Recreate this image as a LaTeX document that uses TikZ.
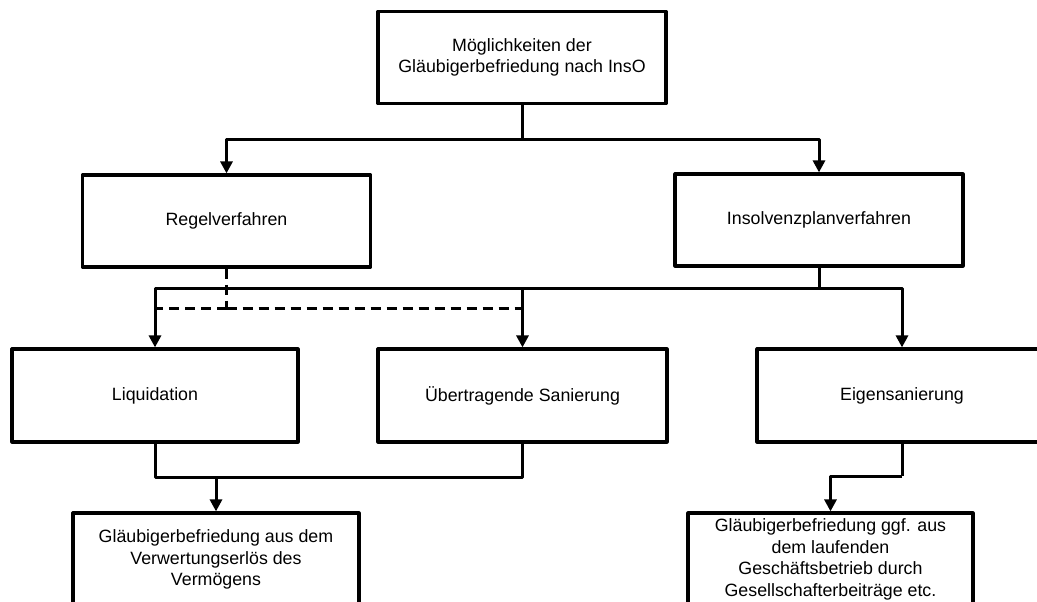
\documentclass[tikz,border=0pt]{standalone}
\usepackage{fontspec}
\setmainfont{Liberation Sans}
\usetikzlibrary{arrows.meta}
\begin{document}
\begin{tikzpicture}[x=1pt,y=-1pt,
  box/.style={draw, line width=3.2pt, line join=round, minimum width=288pt,
    minimum height=92pt, align=center, inner sep=0pt,
    font=\fontsize{17.8}{21.5}\selectfont},
  conn/.style={line width=3pt, line join=round},
  arr/.style={conn, -{Triangle[width=12pt,length=12pt]}},
  dashline/.style={conn, dash pattern=on 10pt off 6pt}]
\useasboundingbox (0,0) rectangle (1037,602);
\clip (0,0) rectangle (1037,602);
\fill[white] (0,0) rectangle (1037,602);

\node[box] (top) at (522,57.5) {Möglichkeiten der\\Gläubigerbefriedung nach InsO};
\node[box] (regel) at (226.5,221) {Regelverfahren};
\node[box] (insol) at (819,220) {Insolvenzplanverfahren};
\node[box, minimum height=93pt, minimum width=286pt] (liq) at (155,395.5) {Liquidation};
\node[box, minimum height=93pt, minimum width=289pt] (ueber) at (522.5,395.5) {Übertragende Sanierung};
\node[box, minimum height=93pt, minimum width=290pt] (eigen) at (902,395.5) {Eigensanierung};
\node[box, minimum height=93pt, minimum width=286pt] (resL) at (216,559.5) {Gläubigerbefriedung aus dem\\Verwertungserlös des\\Vermögens};
\node[box, minimum height=93pt, minimum width=285pt] (resR) at (830.5,559.5) {Gläubigerbefriedung ggf. aus\\dem laufenden\\Geschäftsbetrieb durch\\Gesellschafterbeiträge etc.};

% top level
\coordinate (j1) at (522,139);
\draw[conn] (top.south) -- (j1);
\draw[arr] (j1) -| (regel.north);
\draw[arr] (j1) -| (insol.north);

% Insolvenzplanverfahren branches
\coordinate (j2) at (819,288);
\draw[conn] (insol.south) -- (j2);
\draw[arr] (j2) -| (liq.north);
\draw[arr] (j2) -| (eigen.north);
\draw[arr] (ueber.north |- j2) -- (ueber.north);

% Regelverfahren dashed branches
\coordinate (j3) at (226.5,308);
\draw[dashline] (regel.south) -- (j3);
\draw[dashline] (j3) -- (liq.north |- j3);
\draw[dashline] (j3) -- (ueber.north |- j3);

% Liquidation / Uebertragende Sanierung to result
\coordinate (j4) at (216,477);
\draw[conn] (liq.south) |- (j4);
\draw[conn] (ueber.south) |- (j4);
\draw[arr] (j4) -- (resL.north);

% Eigensanierung to result
\coordinate (j5) at (902,476);
\draw[conn] (eigen.south) -- (j5);
\draw[arr] (j5) -| (resR.north);
\end{tikzpicture}
\end{document}
